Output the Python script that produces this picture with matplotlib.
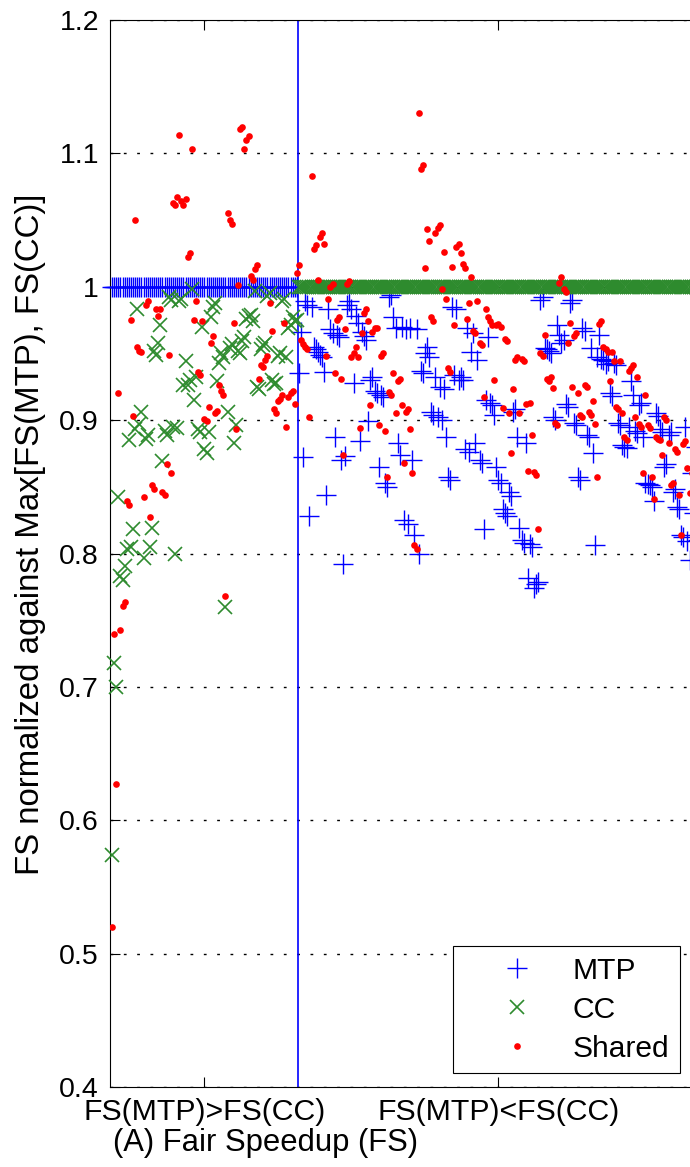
import numpy as np
import matplotlib
matplotlib.use("Agg")
import matplotlib.pyplot as plt

plt.rcParams['font.family'] = ['Liberation Sans', 'DejaVu Sans']
plt.rcParams['font.size'] = 20.5

# Workload pairs where MTP wins (left) and where CC wins (right)
section_labels = ["FS(MTP)>FS(CC)", "FS(MTP)<FS(CC)"]

# ---- left section: FS(MTP) > FS(CC), so MTP is the max (1.0)
mtp_left = [1.0] * 89
cc_left = [
    0.574, 0.718, 0.700, 0.842, 0.783, 0.780, 0.791, 0.803, 0.885, 0.805,
    0.818, 0.893, 0.983, 0.897, 0.906, 0.797, 0.886, 0.889, 0.805, 0.819,
    0.952, 0.949, 0.958, 0.971, 0.869, 0.892, 0.889, 0.992, 0.990, 0.895,
    0.800, 0.894, 0.989, 0.991, 0.926, 0.944, 0.926, 0.930, 0.998, 0.915,
    0.932, 0.893, 0.891, 0.970, 0.878, 0.875, 0.891, 0.977, 0.985, 0.988,
    0.929, 0.943, 0.950, 0.947, 0.760, 0.906, 0.954, 0.957, 0.883, 0.896,
    0.952, 0.950, 0.959, 0.962, 0.976, 0.978, 0.979, 0.974, 0.997, 0.925,
    0.923, 0.953, 0.956, 0.958, 0.993, 0.995, 0.930, 0.927, 0.928, 0.948,
    0.950, 0.989, 0.991, 0.947, 0.969, 0.971, 0.977, 0.974, 0.975,
]
shared_left = [
    0.520, 0.740, 0.627, 0.920, 0.743, 0.761, 0.764, 0.839, 0.836, 0.975,
    0.903, 1.050, 0.955, 0.952, 0.951, 0.842, 0.986, 0.989, 0.827, 0.851,
    0.848, 0.983, 0.978, 0.983, 0.846, 0.844, 0.867, 0.949, 0.860, 1.063,
    1.061, 1.067, 1.114, 1.064, 1.061, 1.066, 1.022, 1.025, 1.103, 0.975,
    0.989, 0.936, 0.934, 0.974, 0.901, 0.899, 0.910, 0.958, 0.963, 0.905,
    0.907, 0.926, 0.922, 0.919, 0.768, 1.055, 1.050, 1.047, 0.973, 0.893,
    1.001, 1.118, 1.120, 1.103, 1.110, 1.113, 1.008, 1.005, 1.013, 1.016,
    0.931, 0.941, 0.940, 0.945, 0.948, 0.988, 0.967, 0.908, 0.905, 0.914,
    0.916, 0.919, 0.973, 0.895, 0.917, 0.920, 0.922, 0.912, 1.010,
]

# ---- right section: FS(MTP) < FS(CC), so CC is the max (1.0)
cc_right = [1.0] * 191
mtp_right = [
    0.935, 0.966, 0.872, 0.989, 0.986, 0.828, 0.985, 0.955, 0.953, 0.951,
    0.949, 0.947, 0.936, 0.844, 0.983, 0.968, 0.965, 0.887, 0.964, 0.962,
    0.870, 0.792, 0.873, 0.986, 0.989, 0.983, 0.928, 0.978, 0.973, 0.884,
    0.966, 0.963, 0.960, 0.899, 0.930, 0.932, 0.922, 0.920, 0.865, 0.919,
    0.917, 0.853, 0.850, 0.992, 0.994, 0.977, 0.969, 0.883, 0.874, 0.970,
    0.825, 0.968, 0.822, 0.969, 0.870, 0.814, 0.968, 0.800, 0.937, 0.935,
    0.950, 0.955, 0.947, 0.906, 0.904, 0.932, 0.902, 0.925, 0.900, 0.923,
    0.887, 0.857, 0.855, 0.985, 0.934, 0.983, 0.930, 0.932, 0.930, 0.878,
    0.969, 0.876, 0.951, 0.965, 0.883, 0.945, 0.870, 0.868, 0.818, 0.915,
    0.962, 0.913, 0.911, 0.904, 0.865, 0.855, 0.853, 0.833, 0.830, 0.828,
    0.846, 0.843, 0.906, 0.908, 0.887, 0.819, 0.810, 0.808, 0.883, 0.782,
    0.807, 0.805, 0.774, 0.777, 0.779, 0.990, 0.992, 0.954, 0.953, 0.952,
    0.950, 0.902, 0.900, 0.971, 0.964, 0.958, 0.960, 0.912, 0.910, 0.988,
    0.990, 0.898, 0.896, 0.857, 0.855, 0.969, 0.967, 0.889, 0.887, 0.954,
    0.875, 0.806, 0.947, 0.964, 0.946, 0.945, 0.942, 0.944, 0.920, 0.918,
    0.943, 0.941, 0.898, 0.896, 0.881, 0.880, 0.879, 0.895, 0.929, 0.919,
    0.892, 0.890, 0.911, 0.913, 0.887, 0.853, 0.852, 0.851, 0.850, 0.839,
    0.905, 0.903, 0.893, 0.891, 0.865, 0.867, 0.889, 0.891, 0.846, 0.848,
    0.835, 0.833, 0.814, 0.812, 0.895, 0.809, 0.795, 0.860, 0.830, 0.880,
    0.810,
]
shared_right = [
    1.016, 0.960, 0.957, 0.955, 0.953, 0.902, 1.083, 1.028, 1.031, 1.005,
    1.037, 1.040, 1.032, 0.948, 0.991, 1.000, 1.002, 0.935, 0.975, 0.977,
    0.931, 0.874, 0.968, 1.002, 1.004, 0.947, 0.950, 0.955, 0.947, 0.894,
    0.965, 0.980, 0.983, 0.974, 0.911, 0.966, 0.969, 0.969, 0.896, 0.948,
    0.950, 0.892, 0.857, 0.921, 0.919, 0.935, 0.905, 0.929, 0.931, 0.911,
    0.868, 0.906, 0.908, 0.893, 0.860, 0.806, 0.803, 1.130, 1.088, 1.091,
    1.014, 1.043, 1.034, 0.977, 0.974, 1.040, 1.044, 1.046, 0.998, 1.026,
    0.991, 0.939, 0.936, 1.015, 0.971, 1.030, 1.032, 1.025, 1.017, 1.014,
    0.976, 0.988, 1.007, 0.967, 0.965, 0.989, 0.958, 0.956, 0.917, 0.983,
    0.977, 0.974, 0.971, 0.930, 0.971, 0.972, 0.970, 0.909, 0.961, 0.959,
    0.905, 0.875, 0.923, 0.945, 0.947, 0.905, 0.946, 0.944, 0.912, 0.862,
    0.913, 0.889, 0.861, 0.859, 0.818, 0.950, 0.948, 0.964, 0.931, 0.929,
    0.932, 0.924, 0.898, 0.896, 1.003, 1.007, 0.998, 0.996, 0.958, 0.973,
    0.925, 0.963, 0.965, 0.920, 0.904, 0.902, 0.926, 0.925, 0.906, 0.904,
    0.914, 0.897, 0.857, 0.972, 0.974, 0.955, 0.953, 0.951, 0.929, 0.951,
    0.944, 0.910, 0.908, 0.944, 0.905, 0.887, 0.885, 0.937, 0.939, 0.941,
    0.902, 0.932, 0.897, 0.895, 0.860, 0.919, 0.896, 0.894, 0.857, 0.841,
    0.887, 0.886, 0.885, 0.874, 0.902, 0.900, 0.883, 0.851, 0.853, 0.878,
    0.876, 0.844, 0.814, 0.882, 0.884, 0.864, 0.845, 0.860, 0.880, 0.830,
    0.850,
]

y_ticks = [0.4, 0.5, 0.6, 0.7, 0.8, 0.9, 1.0, 1.1, 1.2]
y_tick_labels = ["0.4", "0.5", "0.6", "0.7", "0.8", "0.9", "1", "1.1", "1.2"]

mtp = np.array(mtp_left + mtp_right)
cc = np.array(cc_left + cc_right)
shared = np.array(shared_left + shared_right)
n_left = len(mtp_left)
n_total = len(mtp)
x = np.arange(n_total)

fig = plt.figure(figsize=(6.9, 11.67), dpi=100)
ax = fig.add_axes([110 / 690, 80 / 1167, 590 / 690, 1067 / 1167])

ax.plot(x, mtp, ls='none', marker='+', color='#0000ff', ms=14, mew=1.0,
        label='MTP', zorder=3, clip_on=False)
ax.plot(x, cc, ls='none', marker='x', color='#2e8b2e', ms=9.5, mew=1.2,
        label='CC', zorder=4, clip_on=False)
ax.plot(x, shared, ls='none', marker='o', color='#ff0000', ms=4.8,
        mec='none', label='Shared', zorder=5)

# boundary between the two groups of workloads
ax.axvline(n_left - 0.5, color='#0000ff', lw=1.2, zorder=2)

ax.set_xlim(-1, n_total)
ax.set_ylim(0.4, 1.2)
ax.set_yticks(y_ticks)
ax.set_yticklabels(y_tick_labels)
ax.set_xticks([(n_left - 1) / 2, n_left + (n_total - n_left - 1) / 2])
ax.set_xticklabels(section_labels, fontsize=21.8)

ax.yaxis.grid(True, color='black', lw=1.0, ls=(0, (2, 7.6)))
ax.set_axisbelow(True)

for sp in ax.spines.values():
    sp.set_color('black')
    sp.set_linewidth(0.8)
ax.tick_params(direction='in', length=7, width=0.8, top=True, right=True,
               colors='black')
ax.tick_params(axis='y', pad=8)
ax.tick_params(axis='x', pad=8)

ax.set_xlabel("(A) Fair Speedup (FS)", fontsize=22.3)
ax.xaxis.set_label_coords(0.264, -0.038)
ax.set_ylabel("FS normalized against Max[FS(MTP), FS(CC)]", fontsize=23.8)
ax.yaxis.set_label_coords(-0.109, 0.518)

leg = ax.legend(loc='lower right', bbox_to_anchor=(0.966, 0.0131),
                borderaxespad=0, fancybox=False, framealpha=1,
                edgecolor='black', borderpad=0.35, handlelength=3.6,
                handletextpad=0.05, labelspacing=0.36, numpoints=1,
                fontsize=21.6)
leg.get_frame().set_linewidth(0.8)

fig.savefig("out.png", dpi=100)
